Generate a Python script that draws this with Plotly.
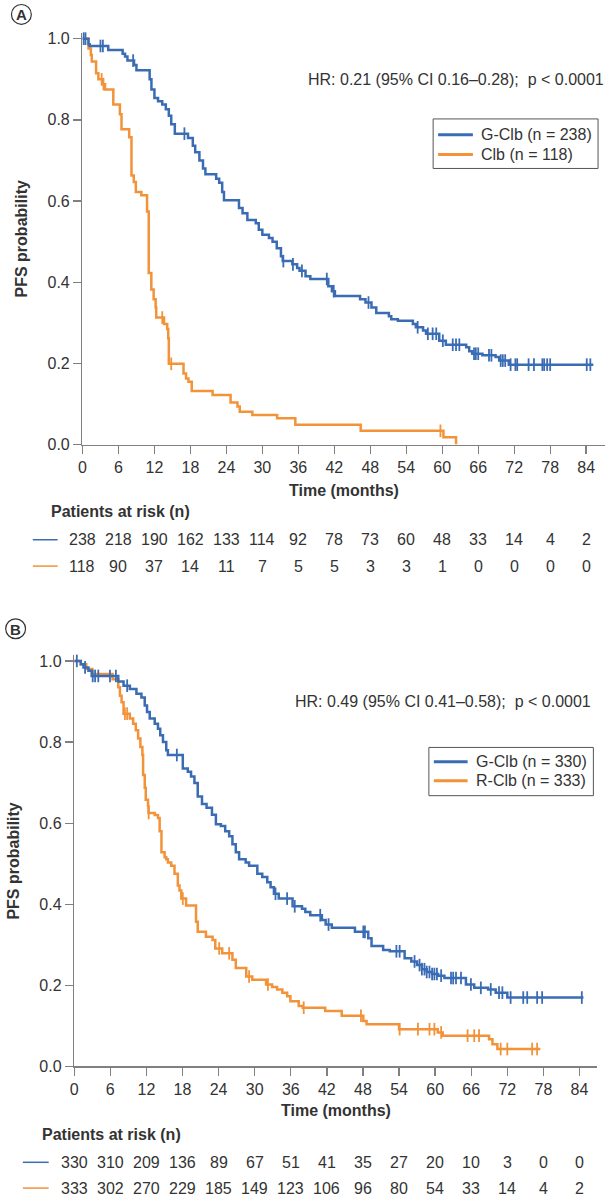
import numpy as np
import plotly.graph_objects as go

# ---------------- data ----------------
months = list(range(0, 85, 6))

# Panel A: G-Clb vs Clb
a_g_label = "G-Clb (n = 238)"
a_c_label = "Clb (n = 118)"
a_g_t = [0, 1.0, 1.2, 4.3, 6.7, 7.1, 7.5, 8.6, 9.0, 11.2,
         11.5, 12.0, 12.6, 13.3, 13.9, 14.4, 14.8, 15.4, 17.6, 18.4,
         18.8, 19.5, 20.1, 20.5, 22.3, 22.8, 23.3, 23.6, 26.1, 26.7,
         27.5, 28.9, 29.4, 30.0, 31.1, 31.7, 32.4, 33.1, 33.4, 35.0,
         35.8, 36.2, 37.2, 38.0, 41.0, 41.6, 42.1, 46.3, 47.2, 48.2,
         49.0, 51.1, 51.5, 52.6, 55.1, 55.6, 56.8, 57.3, 59.5, 60.6,
         64.0, 64.5, 65.0, 66.7, 68.9, 69.5, 71.1, 85.2]
a_g_s = [1.0, 0.986, 0.982, 0.972, 0.963, 0.956, 0.946, 0.935, 0.922, 0.900,
         0.875, 0.854, 0.846, 0.838, 0.826, 0.810, 0.789, 0.766, 0.755, 0.736,
         0.720, 0.700, 0.680, 0.666, 0.655, 0.645, 0.622, 0.602, 0.583, 0.570,
         0.553, 0.545, 0.529, 0.517, 0.509, 0.500, 0.484, 0.464, 0.452, 0.444,
         0.435, 0.428, 0.415, 0.408, 0.390, 0.378, 0.366, 0.358, 0.350, 0.338,
         0.324, 0.316, 0.309, 0.305, 0.297, 0.289, 0.281, 0.273, 0.256, 0.246,
         0.240, 0.230, 0.224, 0.220, 0.216, 0.207, 0.197, 0.197]
a_g_cens = [0.2, 0.5, 3.0, 3.4, 8.45, 17.0, 33.5, 35.1, 36.6, 40.75,
            41.9, 47.7, 55.9, 57.6, 58.4, 59.0, 60.1, 61.75, 62.3, 62.85,
            65.3, 65.6, 66.0, 67.8, 68.2, 69.75, 70.1, 70.5, 71.4, 72.2,
            72.5, 74.4, 75.3, 76.7, 77.0, 77.5, 78.0, 84.1, 84.7]

a_c_t = [0, 1.0, 1.4, 1.55, 2.27, 2.65, 3.3, 3.76, 5.14, 6.24,
         6.51, 7.79, 8.17, 8.56, 8.9, 9.82, 10.77, 11.05, 11.48, 11.87,
         12.2, 12.3, 13.6, 14.13, 14.3, 14.4, 16.85, 17.28, 17.67, 18.22,
         21.7, 24.7, 25.85, 26.23, 28.33, 32.47, 35.5, 46.4, 60.2, 62.3]
a_c_s = [1.0, 0.976, 0.960, 0.944, 0.915, 0.900, 0.888, 0.875, 0.838, 0.814,
         0.777, 0.757, 0.663, 0.647, 0.622, 0.614, 0.574, 0.423, 0.382, 0.358,
         0.338, 0.313, 0.297, 0.285, 0.262, 0.199, 0.175, 0.163, 0.155, 0.132,
         0.122, 0.104, 0.094, 0.081, 0.073, 0.065, 0.049, 0.034, 0.018, 0.0]
a_c_cens = [3.2, 3.5, 13.3, 14.8, 59.7]

a_g_risk = [238, 218, 190, 162, 133, 114, 92, 78, 73, 60, 48, 33, 14, 4, 2]
a_c_risk = [118, 90, 37, 14, 11, 7, 5, 5, 3, 3, 1, 0, 0, 0, 0]
a_hr = "HR: 0.21 (95% CI 0.16–0.28);\u00a0 p &lt; 0.0001"

# Panel B: G-Clb vs R-Clb
b_g_label = "G-Clb (n = 330)"
b_r_label = "R-Clb (n = 333)"
b_g_t = [0, 1.09, 1.54, 2.36, 2.9, 7.32, 8.2, 9.25, 10.34, 11.17,
         11.72, 12.1, 12.55, 13.38, 13.92, 14.3, 14.75, 15.3, 15.57, 18.05,
         18.88, 19.42, 19.98, 20.53, 21.24, 22.0, 22.9, 23.55, 24.38, 25.1,
         25.76, 26.3, 26.86, 27.41, 28.5, 29.07, 30.44, 31.26, 32.09, 32.64,
         33.2, 34.0, 36.3, 37.87, 38.42, 39.24, 41.17, 41.8, 42.82, 46.67,
         48.88, 49.43, 51.36, 52.46, 54.93, 56.04, 57.0, 57.8, 58.6, 59.5,
         60.5, 61.54, 65.12, 66.5, 68.8, 70.07, 72.0, 84.66]
b_g_s = [1.0, 0.992, 0.984, 0.976, 0.963, 0.949, 0.939, 0.931, 0.919, 0.910,
         0.890, 0.874, 0.858, 0.845, 0.833, 0.817, 0.800, 0.780, 0.768, 0.735,
         0.727, 0.715, 0.699, 0.666, 0.647, 0.638, 0.621, 0.597, 0.593, 0.580,
         0.568, 0.548, 0.528, 0.511, 0.503, 0.495, 0.475, 0.467, 0.454, 0.442,
         0.426, 0.414, 0.395, 0.389, 0.381, 0.373, 0.361, 0.350, 0.342, 0.332,
         0.316, 0.297, 0.287, 0.284, 0.267, 0.259, 0.250, 0.240, 0.233, 0.228,
         0.224, 0.218, 0.202, 0.194, 0.190, 0.182, 0.170, 0.170]
b_g_cens = [0.43, 1.8, 3.07, 3.47, 4.0, 5.94, 6.93, 8.8, 17.06, 33.46,
            35.39, 36.66, 40.9, 42.28, 48.06, 48.33, 53.56, 54.1, 56.58, 57.41,
            57.8, 58.23, 58.6, 59.06, 59.5, 59.88, 60.3, 61.0, 62.64, 63.0,
            63.47, 64.3, 65.95, 67.6, 69.25, 70.62, 71.18, 72.55, 74.65, 75.31,
            76.96, 77.79, 84.39]

b_r_t = [0, 1.09, 2.0, 3.0, 6.38, 7.32, 7.6, 7.87, 8.2, 9.25,
         9.79, 10.24, 10.62, 11.0, 11.33, 11.45, 11.72, 11.89, 12.27, 12.35,
         13.38, 13.92, 14.2, 14.5, 15.03, 15.3, 15.57, 16.12, 16.67, 17.22,
         17.5, 17.8, 18.6, 20.25, 20.53, 21.9, 23.0, 23.45, 24.6, 26.3,
         26.86, 28.6, 29.6, 31.9, 32.9, 33.73, 34.6, 35.4, 35.94, 37.32,
         38.0, 41.72, 44.47, 48.06, 48.6, 54.0, 60.44, 61.27, 68.97, 69.53,
         70.35, 77.5]
b_r_s = [1.0, 0.992, 0.980, 0.968, 0.955, 0.935, 0.914, 0.898, 0.870, 0.858,
         0.845, 0.829, 0.809, 0.788, 0.768, 0.719, 0.687, 0.658, 0.642, 0.625,
         0.620, 0.613, 0.580, 0.528, 0.516, 0.511, 0.503, 0.495, 0.475, 0.446,
         0.434, 0.414, 0.397, 0.357, 0.332, 0.320, 0.312, 0.291, 0.279, 0.263,
         0.243, 0.222, 0.214, 0.202, 0.196, 0.190, 0.182, 0.173, 0.161, 0.149,
         0.145, 0.137, 0.125, 0.112, 0.104, 0.092, 0.084, 0.076, 0.067, 0.055,
         0.043, 0.043]
b_r_cens = [8.42, 8.8, 12.38, 18.05, 24.1, 25.76, 29.07, 32.2, 38.15, 47.67,
            54.1, 57.14, 59.06, 59.88, 61.0, 65.4, 66.5, 67.3, 70.9, 72.0,
            76.13, 76.96]

b_g_risk = [330, 310, 209, 136, 89, 67, 51, 41, 35, 27, 20, 10, 3, 0, 0]
b_r_risk = [333, 302, 270, 229, 185, 149, 123, 106, 96, 80, 54, 33, 14, 4, 2]
b_hr = "HR: 0.49 (95% CI 0.41–0.58);\u00a0 p &lt; 0.0001"

# ---------------- style ----------------
W, H = 607, 1204
BLUE = "#3A6CB4"
ORANGE = "#F29239"
AXIS = "#808080"
TXT = "#333333"
FONT = "Liberation Sans, Arial, sans-serif"


def px(x):
    return x / W


def py(y):
    return 1 - y / H


def step_value(times, surv, t):
    i = np.searchsorted(np.asarray(times), t, side="right") - 1
    return [surv[k] for k in np.atleast_1d(i)]


fig = go.Figure()


def add_curve(t, s, cens, color, name, xa, ya):
    fig.add_trace(go.Scatter(
        x=t, y=s, mode="lines", line=dict(color=color, width=2.5, shape="hv"),
        name=name, xaxis=xa, yaxis=ya, hoverinfo="skip", showlegend=False))
    fig.add_trace(go.Scatter(
        x=cens, y=step_value(t, s, cens), mode="markers",
        marker=dict(symbol="line-ns", size=9, line=dict(color=color, width=1.8)),
        showlegend=False, xaxis=xa, yaxis=ya, cliponaxis=False, hoverinfo="skip"))


add_curve(a_c_t, a_c_s, a_c_cens, ORANGE, a_c_label, "x", "y")
add_curve(a_g_t, a_g_s, a_g_cens, BLUE, a_g_label, "x", "y")
add_curve(b_r_t, b_r_s, b_r_cens, ORANGE, b_r_label, "x2", "y2")
add_curve(b_g_t, b_g_s, b_g_cens, BLUE, b_g_label, "x2", "y2")

# axes geometry (pixels)
A = dict(x0=79, x84=586, xend=605, y0=446.7, y1=37)
B = dict(x0=70.7, x84=579.3, xend=596.7, y0=1074.3, y1=665)


def axis_cfg(g):
    ppm = (g["x84"] - g["x0"]) / 84
    xmax = (g["xend"] - g["x0"]) / ppm
    ppv = g["y0"] - g["y1"]
    ytop = g["y0"] - 1.015 * ppv
    xa = dict(domain=[px(g["x0"]), px(g["xend"])], range=[0, xmax],
              tickvals=months, ticks="outside", ticklen=8, tickwidth=1.3,
              tickcolor=AXIS, showline=True, linecolor=AXIS, linewidth=1.5,
              showgrid=False, zeroline=False,
              tickfont=dict(size=16, color=TXT, family=FONT))
    ya = dict(domain=[py(g["y0"]), py(ytop)], range=[0, 1.015],
              tickvals=[0, 0.2, 0.4, 0.6, 0.8, 1.0],
              ticktext=["0.0", "0.2", "0.4", "0.6", "0.8", "1.0"],
              ticks="outside", ticklen=8, tickwidth=1.3, tickcolor=AXIS,
              showline=True, linecolor=AXIS, linewidth=1.5,
              showgrid=False, zeroline=False,
              tickfont=dict(size=16, color=TXT, family=FONT))
    return xa, ya, (g["y0"] + ytop) / 2


xa1, ya1, ymidA = axis_cfg(A)
xa2, ya2, ymidB = axis_cfg(B)
xa1["anchor"] = "y"
ya1["anchor"] = "x"
xa2["anchor"] = "y2"
ya2["anchor"] = "x2"

annotations = []
shapes = []


def txt(x, y, text, size=16, bold=False, xanchor="center", xref="paper",
        angle=0):
    annotations.append(dict(
        x=x, y=py(y), xref=xref, yref="paper", text=f"<b>{text}</b>" if bold else text,
        showarrow=False, xanchor=xanchor, yanchor="middle", textangle=angle,
        font=dict(size=size, color=TXT, family=FONT)))


def hline(x0, x1, y, color, width):
    shapes.append(dict(type="line", xref="paper", yref="paper",
                       x0=px(x0), x1=px(x1), y0=py(y), y1=py(y),
                       line=dict(color=color, width=width)))


def legend_box(box, entries, sample_x, text_x):
    x0, x1, y0, y1 = box
    shapes.append(dict(type="rect", xref="paper", yref="paper",
                       x0=px(x0), x1=px(x1), y0=py(y1), y1=py(y0),
                       line=dict(color="#555555", width=1), fillcolor="white"))
    for label, color, yy in entries:
        hline(sample_x[0], sample_x[1], yy, color, 3)
        txt(px(text_x), yy, label, xanchor="left")


def panel_extras(label, circ, hr, hr_x, hr_y, ytitle_x, ymid, xtitle_x, xtitle_y,
                 par_x, par_y, rows, row_y, line_x, xref):
    cx, cy = circ
    shapes.append(dict(type="circle", xref="paper", yref="paper",
                       x0=px(cx - 10), x1=px(cx + 10), y0=py(cy + 10), y1=py(cy - 10),
                       line=dict(color=TXT, width=1.2)))
    txt(px(cx), cy + 0.5, label, size=15, bold=True)
    txt(px(hr_x), hr_y, hr, xanchor="right")
    txt(px(ytitle_x), ymid, "PFS probability", bold=True, angle=-90)
    txt(px(xtitle_x), xtitle_y, "Time (months)", bold=True)
    txt(px(par_x), par_y, "Patients at risk (n)", bold=True, xanchor="left")
    for (vals, color), yy in zip(rows, row_y):
        hline(line_x[0], line_x[1], yy, color, 1.5)
        for m, v in zip(months, vals):
            annotations.append(dict(
                x=m, y=py(yy), xref=xref, yref="paper", text=str(v),
                showarrow=False, xanchor="center", yanchor="middle",
                font=dict(size=16, color=TXT, family=FONT)))


panel_extras("A", (17.5, 12.5), a_hr, 606, 78, 18, ymidA, 342, 493,
             45, 514, [(a_g_risk, BLUE), (a_c_risk, ORANGE)], [542.7, 569.3],
             (29, 54), "x")
panel_extras("B", (11.7, 632.5), b_hr, 593, 706, 10, ymidB, 334, 1119,
             36, 1143, [(b_g_risk, BLUE), (b_r_risk, ORANGE)], [1171, 1197],
             (19, 45), "x2")

legend_box((432, 598, 118, 168), [(a_g_label, BLUE, 134), (a_c_label, ORANGE, 154)],
           (437, 472), 478)
legend_box((427.7, 593.3, 752.3, 801), [(b_g_label, BLUE, 766.7), (b_r_label, ORANGE, 786)],
           (432.7, 466.7), 473)

fig.update_layout(
    width=W, height=H, margin=dict(l=0, r=0, t=0, b=0),
    paper_bgcolor="white", plot_bgcolor="white",
    font=dict(family=FONT, color=TXT, size=16),
    xaxis=xa1, yaxis=ya1, xaxis2=xa2, yaxis2=ya2,
    annotations=annotations, shapes=shapes, showlegend=False,
    hovermode=False,
)

fig.write_html(
    "out.html",
    config={"displayModeBar": False, "staticPlot": True},
    post_script="document.body.style.margin='0px';document.body.style.padding='0px';"
                "document.body.style.overflow='hidden';"
                "document.documentElement.style.overflow='hidden';",
)
